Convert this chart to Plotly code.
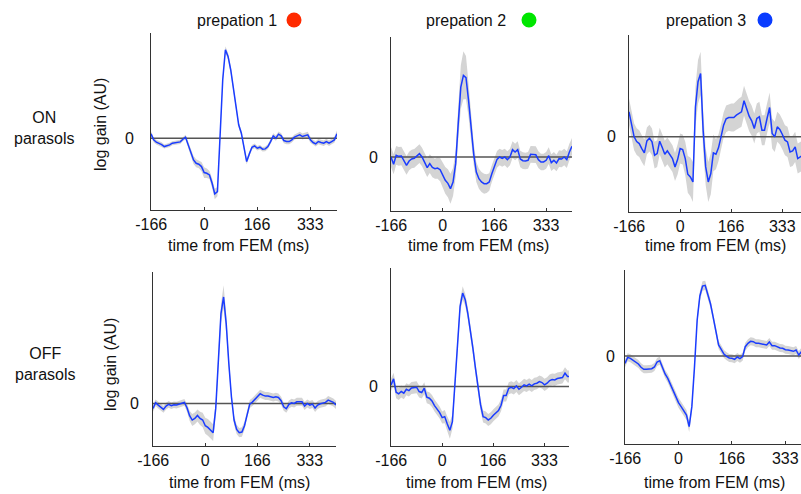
import plotly.graph_objects as go

W, H = 801, 494

# sample times (ms, relative to FEM), 120 Hz frames
TIME = [-166.7, -158.3, -150.0, -141.7, -133.3, -125.0, -116.7, -108.3, -100.0, -91.7,
        -83.3, -75.0, -66.7, -58.3, -50.0, -41.7, -33.3, -25.0, -16.7, -8.3,
        0.0, 8.3, 16.7, 25.0, 33.3, 41.7, 50.0, 58.3, 66.7, 75.0,
        83.3, 91.7, 100.0, 108.3, 116.7, 125.0, 133.3, 141.7, 150.0, 158.3,
        166.7, 175.0, 183.3, 191.7, 200.0, 208.3, 216.7, 225.0, 233.3, 241.7,
        250.0, 258.3, 266.7, 275.0, 283.3, 291.7, 300.0, 308.3, 316.7, 325.0,
        333.3, 341.7, 350.0, 358.3, 366.7, 375.0, 383.3, 391.7, 400.0, 408.3, 416.7]

COLUMNS = ["prepation 1", "prepation 2", "prepation 3"]
ROWS = ["ON<br>parasols", "OFF<br>parasols"]
XTICKS = [-166, 0, 166, 333]
XTICK_TEXT = ["-166", "0", "166", "333"]

# log gain (AU) - ON parasols
on_prep1 = [13, -5, -12, -15, -19, -25, -23, -20, -15, -13, -13, -11, -3, 3, -20, -45, -65, -75, -78, -85,
            -103, -105, -110, -135, -167, -160, 15, 175, 265, 245, 205, 145, 85, 40, 15, -30, -70, -47, -27, -23,
            -30, -27, -33, -32, -25, -10, 7, 0, 12, 7, -7, -10, -10, -5, 3, 7, 10, 5, 7, 10,
            -5, -13, -17, -10, -13, -15, -10, -15, -10, -5, 13]
on_prep1_sem = [8, 7, 7, 7, 7, 6, 6, 6, 6, 6, 6, 6, 6, 7, 9, 10, 12, 12, 12, 14,
                16, 14, 12, 14, 16, 14, 10, 10, 10, 10, 10, 9, 9, 8, 8, 8, 9, 8, 7, 7,
                7, 7, 7, 7, 7, 7, 8, 8, 8, 8, 8, 8, 8, 8, 8, 8, 9, 9, 9, 9,
                9, 8, 8, 8, 8, 8, 8, 8, 8, 9, 10]
on_prep2 = [0, -22, 5, 2, 3, -13, -25, -12, -6, -4, 4, 10, 0, -14, -32, -20, -31, -35, -33, -38,
            -55, -70, -79, -95, -75, -20, 100, 210, 245, 238, 170, 80, 8, -45, -65, -75, -80, -80, -75, -50,
            -27, -7, 0, -4, 0, -8, 0, 22, 15, 22, -6, -11, -12, -10, 8, 7, 7, -8, -15, -15,
            -10, 4, -17, -10, -18, -5, -6, 0, -8, 15, 32]
on_prep2_sem = [30, 30, 28, 28, 28, 28, 28, 28, 28, 28, 28, 28, 28, 28, 28, 28, 30, 30, 32, 35,
                38, 40, 42, 45, 42, 40, 50, 65, 72, 65, 50, 40, 32, 30, 30, 30, 30, 28, 26, 25,
                25, 25, 25, 25, 25, 25, 25, 25, 25, 25, 25, 25, 25, 25, 25, 25, 25, 25, 25, 25,
                25, 25, 25, 25, 25, 25, 25, 25, 25, 25, 25]
on_prep3 = [75, 32, 0, -14, -20, -35, -48, -12, -4, -15, -55, -50, -13, -32, -52, -42, -55, -65, -90, -68,
            -35, -38, -65, -112, -120, -135, 90, 165, 190, 20, -90, -135, -110, -48, -52, -33, 0, 35, 54, 58,
            58, 58, 65, 70, 75, 108, 85, 62, 48, 25, 55, 60, 20, 20, 55, 88, 10, 0, 30, 22,
            7, -10, -15, -45, -42, -30, -65, -60, -55]
on_prep3_sem = [40, 40, 40, 40, 40, 40, 40, 40, 40, 40, 40, 40, 40, 40, 40, 40, 40, 40, 42, 45,
                45, 45, 50, 55, 58, 60, 60, 65, 65, 60, 55, 60, 62, 55, 45, 40, 38, 38, 40, 40,
                42, 42, 44, 45, 45, 45, 45, 45, 45, 45, 45, 45, 45, 45, 45, 45, 45, 45, 45, 45,
                45, 45, 45, 45, 45, 45, 45, 45, 45]

# log gain (AU) - OFF parasols
off_prep1 = [-15, 2, -5, -12, -18, -8, -3, -7, -4, -5, -3, 0, 3, -13, -37, -50, -45, -36, -45, -50,
             -67, -72, -80, -88, -15, 140, 270, 320, 240, 120, 20, -50, -78, -88, -86, -67, -30, -2, 4, 12,
             18, 29, 25, 22, 22, 20, 18, 20, 18, 8, -10, -16, -3, 2, 0, 5, 4, 5, -8, 0,
             -5, -2, -14, -5, -1, 2, 3, 10, 7, 3, -5]
off_prep1_sem = [10, 10, 10, 10, 10, 10, 10, 10, 10, 10, 10, 10, 10, 12, 15, 18, 18, 18, 20, 22,
                 24, 25, 25, 25, 20, 20, 28, 35, 28, 20, 15, 14, 14, 14, 14, 12, 12, 12, 12, 12,
                 12, 12, 12, 12, 12, 12, 12, 12, 12, 12, 12, 12, 12, 12, 12, 12, 12, 12, 12, 12,
                 12, 12, 12, 12, 12, 12, 12, 12, 12, 12, 12]
off_prep2 = [5, 23, -17, -22, -15, -20, -8, -12, -4, -3, -2, -15, -18, -5, -32, -35, -43, -57, -68, -78,
             -93, -90, -112, -131, -105, 5, 140, 240, 280, 260, 220, 170, 115, 55, 0, -55, -90, -93, -100, -95,
             -86, -80, -72, -56, -27, -27, -5, -2, -6, 2, -8, -2, 5, 2, 7, 2, 8, 10, 15, 12,
             5, 10, 18, 21, 20, 24, 25, 27, 40, 30, 30]
off_prep2_sem = [18, 18, 18, 18, 18, 18, 18, 18, 18, 18, 18, 18, 18, 18, 18, 18, 18, 18, 18, 18,
                 18, 20, 22, 25, 22, 20, 20, 20, 20, 18, 18, 18, 18, 18, 18, 18, 18, 18, 18, 18,
                 18, 18, 18, 18, 18, 18, 18, 18, 18, 18, 18, 18, 18, 18, 18, 18, 18, 18, 18, 18,
                 18, 18, 18, 18, 18, 18, 18, 18, 18, 18, 18]
off_prep3 = [-22, -4, -7, -13, -19, -24, -34, -40, -40, -40, -38, -33, -18, -14, -37, -54, -67, -85, -102, -122,
             -140, -152, -164, -177, -212, -152, -32, 108, 180, 210, 212, 186, 156, 116, 70, 33, 20, 6, -1, -6,
             -7, -10, -3, -8, -2, 28, 38, 44, 43, 38, 38, 36, 36, 33, 42, 31, 31, 27, 24, 23,
             19, 18, 16, 14, 18, 3, 13, 10]
off_prep3_sem = [12, 12, 12, 12, 12, 12, 12, 12, 12, 12, 12, 12, 12, 12, 12, 12, 13, 13, 14, 14,
                 15, 15, 15, 15, 16, 15, 14, 14, 14, 14, 14, 13, 13, 12, 12, 12, 12, 12, 12, 12,
                 12, 12, 12, 12, 12, 12, 12, 12, 12, 12, 12, 12, 12, 12, 12, 12, 12, 12, 12, 12,
                 12, 12, 12, 12, 12, 12, 12, 12]

PANELS = [
    (on_prep1, on_prep1_sem), (on_prep2, on_prep2_sem), (on_prep3, on_prep3_sem),
    (off_prep1, off_prep1_sem), (off_prep2, off_prep2_sem), (off_prep3, off_prep3_sem),
]
DOT_COLORS = ["#ff2a00", "#00e600", "#0a3cff"]

# ---------------- layout geometry (pixels) ----------------
# (x0, x1, y_top, y_bottom, x_end_ms, y_min, y_max, ylabel standoff)
GEOM = [
    (151, 337, 33, 210, 416.7, -215, 315, 13),
    (391, 572, 37, 211, 416.7, -162, 360, 9),
    (629, 801, 35, 212, 394.0, -225, 305, 9),
    (153, 336, 272, 446, 416.7, -128, 395, 10),
    (391, 569, 268, 446, 413.0, -178, 355, 9),
    (625, 801, 270, 444, 382.0, -264, 258, 6),
]

FONT = "Liberation Sans"
TXT = "#111111"
LINE_BLUE = "#1a3cff"
BAND = "#d4d4d4"

fig = go.Figure()
layout = dict(template="none", width=W, height=H, autosize=False,
              margin=dict(l=0, r=0, t=0, b=0, pad=0),
              paper_bgcolor="white", plot_bgcolor="white", showlegend=False,
              font=dict(family=FONT, size=16, color=TXT))

for i, ((vals, sem), g) in enumerate(zip(PANELS, GEOM)):
    n = i + 1
    xa = "x" if n == 1 else f"x{n}"
    ya = "y" if n == 1 else f"y{n}"
    t = TIME[:len(vals)]
    upper = [v + s for v, s in zip(vals, sem)]
    lower = [v - s for v, s in zip(vals, sem)]
    fig.add_trace(go.Scatter(x=t, y=upper, mode="lines", line=dict(width=0, color=BAND),
                             xaxis=xa, yaxis=ya, hoverinfo="skip"))
    fig.add_trace(go.Scatter(x=t, y=lower, mode="lines", line=dict(width=0, color=BAND),
                             fill="tonexty", fillcolor=BAND, xaxis=xa, yaxis=ya, hoverinfo="skip"))
    fig.add_trace(go.Scatter(x=[TIME[0], TIME[-1]], y=[0, 0], mode="lines",
                             line=dict(color="#555555", width=1.5), xaxis=xa, yaxis=ya, hoverinfo="skip"))
    fig.add_trace(go.Scatter(x=t, y=vals, mode="lines", line=dict(color=LINE_BLUE, width=1.5),
                             xaxis=xa, yaxis=ya))

    x0, x1, yt, yb, xend, ymin, ymax, ystand = g
    key_x = "xaxis" if n == 1 else f"xaxis{n}"
    key_y = "yaxis" if n == 1 else f"yaxis{n}"
    layout[key_x] = dict(domain=[x0 / W, x1 / W], range=[TIME[0], xend], anchor=ya,
                         automargin=False,
                         showgrid=False, zeroline=False, showline=True, linecolor="#333",
                         linewidth=1, ticks="inside", ticklen=3, tickcolor="#333",
                         tickvals=XTICKS, ticktext=XTICK_TEXT, ticklabelstandoff=0,
                         tickfont=dict(size=16, family=FONT, color=TXT), fixedrange=True)
    layout[key_y] = dict(domain=[1 - yb / H, 1 - yt / H], range=[ymin, ymax], anchor=xa,
                         automargin=False,
                         showgrid=False, zeroline=False, showline=True, linecolor="#333",
                         linewidth=1, ticks="", tickvals=[0], ticktext=["0"],
                         ticklabelstandoff=ystand,
                         tickfont=dict(size=16, family=FONT, color=TXT), fixedrange=True)

annotations = []
shapes = []
# column titles + coloured dots
TITLE_POS = [(237, 20, 294), (466, 20, 529), (706, 20, 765)]
for (cx, cy, dx), title, col in zip(TITLE_POS, COLUMNS, DOT_COLORS):
    annotations.append(dict(text=title, x=cx / W, y=1 - cy / H, xref="paper", yref="paper",
                            showarrow=False, xanchor="center", yanchor="middle",
                            font=dict(size=16, family=FONT, color=TXT)))
    r = 7.5
    shapes.append(dict(type="circle", xref="paper", yref="paper",
                       x0=(dx - r) / W, x1=(dx + r) / W, y0=1 - (cy + r) / H, y1=1 - (cy - r) / H,
                       fillcolor=col, line=dict(width=0)))

# row labels
for (cx, cy), txt in zip([(44, 128), (45, 364)], ROWS):
    annotations.append(dict(text=txt, x=cx / W, y=1 - cy / H, xref="paper", yref="paper",
                            showarrow=False, xanchor="center", yanchor="middle",
                            font=dict(size=16, family=FONT, color=TXT)))

# y-axis titles
for (cx, cy) in [(100, 125), (110, 365)]:
    annotations.append(dict(text="log gain (AU)", x=cx / W, y=1 - cy / H, xref="paper", yref="paper",
                            showarrow=False, textangle=-90, xanchor="center", yanchor="middle",
                            font=dict(size=16, family=FONT, color=TXT)))

# x-axis titles
for (cx, cy) in [(238, 245), (478, 245), (715, 245), (239, 482), (476, 482), (714, 482)]:
    annotations.append(dict(text="time from FEM (ms)", x=cx / W, y=1 - cy / H, xref="paper", yref="paper",
                            showarrow=False, xanchor="center", yanchor="middle",
                            font=dict(size=16, family=FONT, color=TXT)))

layout["annotations"] = annotations
layout["shapes"] = shapes
fig.update_layout(**layout)
fig.write_html("out.html")
